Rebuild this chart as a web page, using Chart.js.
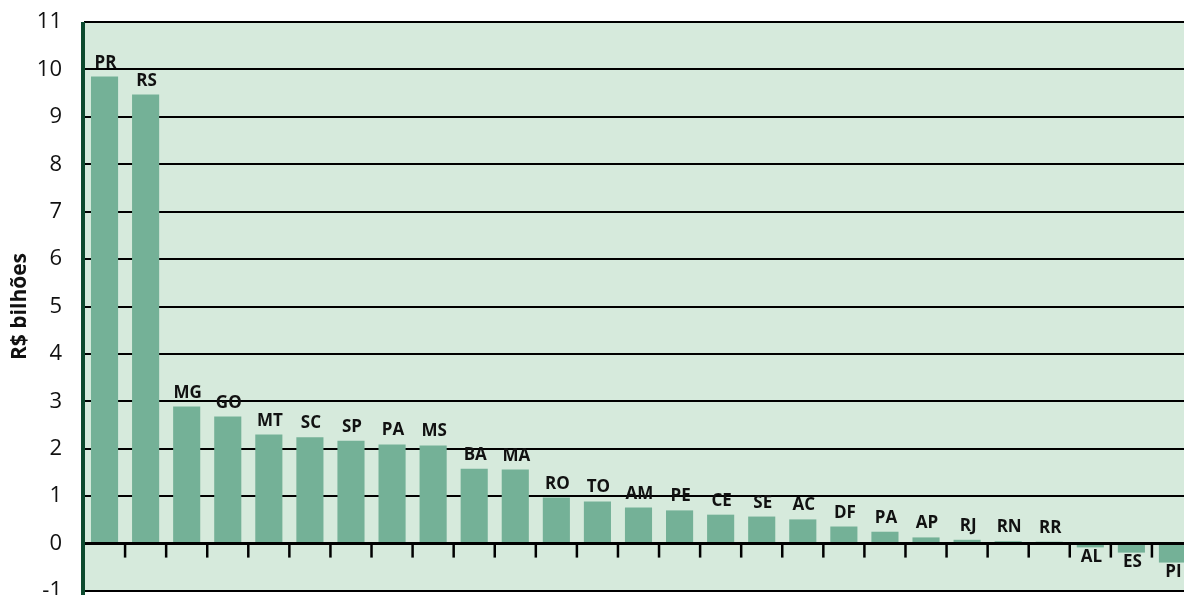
<!DOCTYPE html>
<html>
<head>
<meta charset="utf-8">
<script src="https://cdn.jsdelivr.net/npm/chart.js@4.4.1/dist/chart.umd.min.js"></script>
<style>
  html, body { margin: 0; padding: 0; background: #fff; overflow: hidden; }
  #wrap { width: 1193px; height: 595px; }
</style>
</head>
<body>
<div id="wrap"><canvas id="chart" width="1193" height="595"></canvas></div>
<script>
// Estados (UF) e saldo em R$ bilhões
const states = ['PR', 'RS', 'MG', 'GO', 'MT', 'SC', 'SP', 'PA', 'MS', 'BA', 'MA', 'RO', 'TO', 'AM',
    'PE', 'CE', 'SE', 'AC', 'DF', 'PA', 'AP', 'RJ', 'RN', 'RR', 'AL', 'ES', 'PI'];
const values = [9.85, 9.47, 2.89, 2.68, 2.30, 2.24, 2.17, 2.09, 2.07, 1.58, 1.56, 0.97, 0.89, 0.76,
    0.70, 0.61, 0.57, 0.51, 0.36, 0.25, 0.13, 0.08, 0.05, 0.04, -0.08, -0.19, -0.40];
const yTicks = [-1, 0, 1, 2, 3, 4, 5, 6, 7, 8, 9, 10, 11];

const BG = '#d6eadc';
const BAR = '#74b197';
const AXIS_GREEN = '#0c4a2e';

// background, left axis, zero line with tick marks, bar labels
const decorPlugin = {
    id: 'decor',
    beforeDraw(chart) {
        const { ctx, chartArea: a } = chart;
        ctx.save();
        ctx.fillStyle = BG;
        ctx.fillRect(a.left, a.top, a.right - a.left, a.bottom - a.top);
        ctx.restore();
    },
    afterDatasetsDraw(chart) {
        const { ctx, chartArea: a } = chart;
        const x = chart.scales.x;
        const y = chart.scales.y;
        const zeroY = y.getPixelForValue(0);
        ctx.save();

        // zero line
        ctx.strokeStyle = '#000';
        ctx.lineWidth = 3;
        ctx.beginPath();
        ctx.moveTo(a.left, zeroY);
        ctx.lineTo(a.right, zeroY);
        ctx.stroke();

        // tick marks at category boundaries
        ctx.lineWidth = 2.5;
        for (let i = 1; i < states.length; i++) {
            const bx = (x.getPixelForValue(i - 1) + x.getPixelForValue(i)) / 2;
            ctx.beginPath();
            ctx.moveTo(bx, zeroY);
            ctx.lineTo(bx, zeroY + 14);
            ctx.stroke();
        }

        // left axis
        ctx.strokeStyle = AXIS_GREEN;
        ctx.lineWidth = 4;
        ctx.beginPath();
        ctx.moveTo(a.left - 1, a.top);
        ctx.lineTo(a.left - 1, chart.height);
        ctx.stroke();

        // labels
        ctx.fillStyle = '#111';
        ctx.font = 'bold 17px "Open Sans", sans-serif';
        ctx.textAlign = 'center';
        const meta = chart.getDatasetMeta(0);
        meta.data.forEach((bar, i) => {
            const v = values[i];
            if (v >= 0) {
                ctx.textBaseline = 'alphabetic';
                const ty = Math.min(bar.y - 9, zeroY - 7);
                ctx.fillText(states[i], bar.x + 1, ty);
            } else {
                ctx.textBaseline = 'top';
                ctx.fillText(states[i], bar.x + 1, bar.y + 1);
            }
        });
        ctx.restore();
    }
};

new Chart(document.getElementById('chart').getContext('2d'), {
    type: 'bar',
    data: {
        labels: states,
        datasets: [{
            data: values,
            backgroundColor: BAR,
            borderWidth: 0,
            barPercentage: 0.66,
            categoryPercentage: 1
        }]
    },
    options: {
        responsive: false,
        animation: false,
        layout: { padding: { top: 22, bottom: 4, left: 0, right: 0 } },
        plugins: {
            legend: { display: false },
            tooltip: { enabled: false }
        },
        scales: {
            x: { display: false },
            y: {
                min: -1,
                max: 11,
                afterBuildTicks(scale) {
                    scale.ticks = yTicks.map(v => ({ value: v }));
                },
                afterFit(scale) {
                    scale.width = 84;
                    scale.paddingTop = 0;
                    scale.paddingBottom = 0;
                },
                border: { display: false },
                grid: {
                    color: '#000',
                    lineWidth: ctx => (ctx.tick && ctx.tick.value === 0 ? 0 : 2),
                    drawTicks: false
                },
                ticks: {
                    color: '#111',
                    padding: 22,
                    font: { family: '"Open Sans", sans-serif', size: 22 }
                },
                title: {
                    display: true,
                    text: 'R$ bilhões',
                    color: '#111',
                    padding: { top: 7, bottom: 0 },
                    font: { family: '"Open Sans", sans-serif', size: 21, weight: 'bold' }
                }
            }
        }
    },
    plugins: [decorPlugin]
});
</script>
</body>
</html>
